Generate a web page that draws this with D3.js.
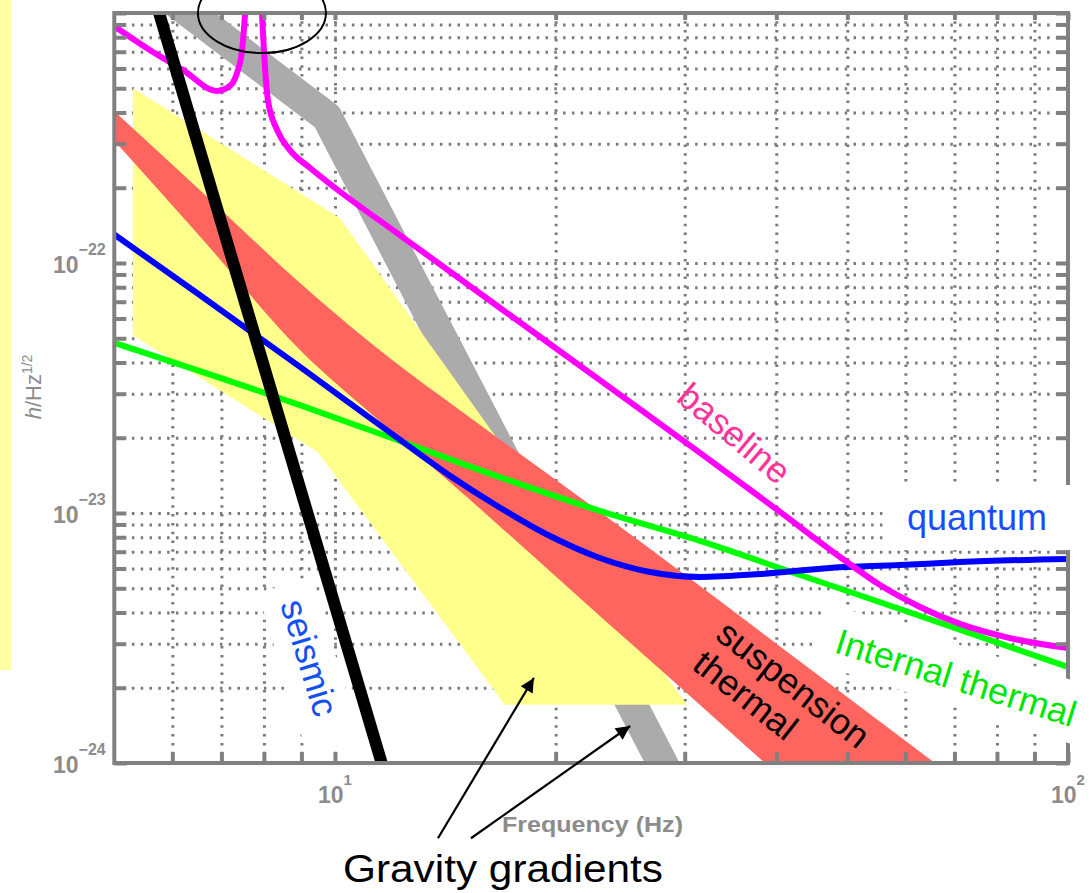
<!DOCTYPE html>
<html><head><meta charset="utf-8">
<script src="https://cdn.jsdelivr.net/npm/d3@7"></script>
<style>
html,body{margin:0;padding:0;background:#fff;}
svg{display:block;font-family:"Liberation Sans",Arial,Helvetica,sans-serif;}
</style></head><body>
<svg id="c" width="1092" height="893"></svg>
<script>
// ---------- data (frequency in Hz, strain h/Hz^1/2) ----------
const xTickValues = [6,7,8,9,10,20,30,40,50,60,70,80,90,100];
const xTickLabels = [[10,"1"],[100,"2"]];
const yTickDecades = [-24,-23,-22];
const seismic = [[5.65,1.2e-21],[11.8,8.3e-25]];
const gravityGradientMain = [[5.84,1.2e-21],[6.34,1.0e-21],[9.75,3.84e-22],[27.9,1.01e-24],[28.8,8.4e-25]];
const gravityGradientUpper = [[5.30,5.01e-22],[10.16,1.51e-22],[30.2,1.71e-24]];
const gravityGradientLower = [[5.30,5.15e-23],[9.48,1.75e-23],[17.06,1.71e-24]];
const suspensionUpper = [[5.0,4.05e-22],[6.54,1.96e-22],[8.96,8.32e-23],[11.06,4.92e-23],[16.12,2.15e-23],[20.73,1.26e-23],[30.69,5.40e-24],[43.37,2.51e-24],[65.84,1.0e-24]];
const suspensionLower = [[5.0,3.08e-22],[6.54,1.28e-22],[8.96,4.49e-23],[11.63,2.27e-23],[15.28,1.13e-23],[22.98,3.87e-24],[30.21,1.9e-24],[38.6,1.0e-24]];
const internalThermal = [[5.0,4.79e-23],[8.96,2.70e-23],[12.27,1.94e-23],[16.8,1.39e-23],[22.98,1.02e-23],[31.48,7.73e-24],[43.09,5.65e-24],[58.98,4.13e-24],[100,2.42e-24]];
const quantum = [[5.0,1.30e-22],[6.54,7.45e-23],[8.96,3.84e-23],[12.27,1.96e-23],[14.35,1.41e-23],[16.8,1.05e-23],[19.65,8.09e-24],[22.98,6.61e-24],[26.9,5.81e-24],[31.48,5.55e-24],[38.0,5.70e-24],[47.35,6.03e-24],[58.98,6.19e-24],[71.23,6.37e-24],[100,6.55e-24]];
const baseline = [[5.0,8.85e-22],[5.59,7.11e-22],[6.20,5.92e-22],[6.90,4.88e-22],[7.19,5.11e-22],[7.35,5.75e-22],[7.47,7.11e-22],[7.54,1.0e-21],[7.59,1.4e-21],[7.90,1.4e-21],[7.95,1.0e-21],[8.0,7.11e-22],[8.10,4.49e-22],[8.34,3.40e-22],[8.68,2.83e-22],[9.25,2.40e-22],[10.0,2.0e-22],[12.27,1.29e-22],[16.8,6.61e-23],[22.98,3.40e-23],[31.48,1.74e-23],[40.47,1.01e-23],[48.86,6.67e-24],[55.41,5.15e-24],[62.83,4.21e-24],[71.23,3.60e-24],[83.35,3.16e-24],[100,2.88e-24]];
const arrows = [[[13.82,5.0e-25],[18.68,2.19e-24]],[[15.33,5.0e-25],[25.27,1.406e-24]]];
const circled = [7.95,1e-21];

// ---------- layout ----------
const W=1092,H=893;
const m={l:114.3,r:1068,t:13,b:763};
const x=d3.scaleLog().domain([5,100]).range([m.l,m.r]);
const y=d3.scaleLog().domain([1e-24,1e-21]).range([m.b,m.t]);
const svg=d3.select("#c");
const GRAY="#808080";

svg.append("rect").attr("x",0).attr("y",0).attr("width",11).attr("height",670).attr("fill","#FFFFA6");

const defs=svg.append("defs");
defs.append("clipPath").attr("id","plot").append("rect")
  .attr("x",m.l).attr("y",m.t).attr("width",m.r-m.l).attr("height",m.b-m.t);
defs.append("marker").attr("id","ah").attr("viewBox","0 0 10 10").attr("refX",10).attr("refY",5)
  .attr("markerUnits","userSpaceOnUse").attr("markerWidth",18).attr("markerHeight",14).attr("orient","auto")
  .append("path").attr("d","M0,0L10,5L0,10z").attr("fill","#000");

// grid values
const yGrid=[];
yTickDecades.forEach(e=>{for(let k=1;k<=9;k++){const v=+(k+"e"+e); if(v>1e-24) yGrid.push(v);}});
const yTicksAll=[1e-24,...yGrid,1e-21];
const xGrid=xTickValues.filter(v=>v<100);

// grid
const gx=svg.append("g").attr("transform",`translate(0,${m.b})`)
  .call(d3.axisBottom(x).tickValues(xGrid).tickSize(-(m.b-m.t)).tickFormat(""));
const gy=svg.append("g").attr("transform",`translate(${m.l},0)`)
  .call(d3.axisLeft(y).tickValues(yGrid).tickSize(-(m.r-m.l)).tickFormat(""));
[gx,gy].forEach(g=>{g.select(".domain").remove();
  g.selectAll("line").attr("stroke","#7a7a7a").attr("stroke-width",3).attr("stroke-dasharray","2.5,6.3");});

// curves
const plot=svg.append("g").attr("clip-path","url(#plot)");
const line=d3.line().x(d=>x(d[0])).y(d=>y(d[1]));
const smooth=d3.line().x(d=>x(d[0])).y(d=>y(d[1])).curve(d3.curveMonotoneX);

plot.append("path").attr("d",line(gravityGradientMain)).attr("fill","none")
  .attr("stroke","#ABABAB").attr("stroke-width",31).attr("stroke-linejoin","round");
plot.append("path").attr("d",line(gravityGradientUpper.concat(gravityGradientLower.slice().reverse()))+"Z")
  .attr("fill","#FFFF8C");
plot.append("path").attr("d",smooth(suspensionUpper)+"L"+smooth(suspensionLower.slice().reverse()).slice(1)+"Z")
  .attr("fill","#FF655F");
plot.append("path").attr("d",smooth(internalThermal)).attr("fill","none").attr("stroke","#00FF00").attr("stroke-width",6);
plot.append("path").attr("d",smooth(quantum)).attr("fill","none").attr("stroke","#0000FF").attr("stroke-width",6);
plot.append("path").attr("d",smooth(baseline)).attr("fill","none").attr("stroke","#FF00FF").attr("stroke-width",6);
plot.append("path").attr("d",line(seismic)).attr("fill","none").attr("stroke","#000").attr("stroke-width",12);

// axes ticks (inward)
function styleAxis(g){g.select(".domain").remove();g.selectAll("line").attr("stroke",GRAY).attr("stroke-width",4);}
svg.append("g").attr("transform",`translate(0,${m.b})`).call(d3.axisBottom(x).tickValues(xTickValues).tickSize(-11).tickFormat("")).call(styleAxis);
svg.append("g").attr("transform",`translate(0,${m.t})`).call(d3.axisTop(x).tickValues(xTickValues).tickSize(-7).tickFormat("")).call(styleAxis);
svg.append("g").attr("transform",`translate(${m.l},0)`).call(d3.axisLeft(y).tickValues(yTicksAll).tickSize(-12).tickFormat("")).call(styleAxis);
svg.append("g").attr("transform",`translate(${m.r},0)`).call(d3.axisRight(y).tickValues(yTicksAll).tickSize(-12).tickFormat("")).call(styleAxis);
svg.append("rect").attr("x",m.l).attr("y",m.t).attr("width",m.r-m.l).attr("height",m.b-m.t)
  .attr("fill","none").attr("stroke",GRAY).attr("stroke-width",4);

// tick labels
const LBL="#8c8c8c";
yTickDecades.forEach(e=>{
  const t=svg.append("text").attr("x",53).attr("y",y(Math.pow(10,e))+10).attr("font-size",23).attr("font-weight","bold").attr("fill",LBL).text("10");
  t.append("tspan").attr("dy",-18).attr("font-size",16).text("\u2212"+(-e));
});
xTickLabels.forEach(([v,s])=>{
  const t=svg.append("text").attr("x",x(v)-17).attr("y",803).attr("font-size",23).attr("font-weight","bold").attr("fill",LBL).text("10");
  t.append("tspan").attr("dy",-18).attr("font-size",15).text(s);
});
svg.append("text").attr("x",502).attr("y",832).attr("font-size",22).attr("font-weight","bold").attr("fill",LBL)
  .attr("textLength",181).attr("lengthAdjust","spacingAndGlyphs").text("Frequency (Hz)");
const yl=svg.append("text").attr("transform","translate(41,387) rotate(-90)").attr("text-anchor","middle")
  .attr("font-size",22).attr("fill",LBL);
yl.append("tspan").attr("font-style","italic").text("h");
yl.append("tspan").text("/Hz");
yl.append("tspan").attr("dy",-9).attr("font-size",14).text("1/2");

// white label boxes
function rbox(px,py,ang,u0,u1,v0,v1){
  svg.append("rect").attr("transform",`translate(${px},${py}) rotate(${ang})`)
    .attr("x",u0).attr("y",v0).attr("width",u1-u0).attr("height",v1-v0).attr("fill","#fff");
}
svg.append("rect").attr("x",885).attr("y",485).attr("width",207).attr("height",65).attr("fill","#fff");
rbox(833,652,17.5,-22,280,-45,16);
rbox(280,604,73,-17,152,-38,18);

// annotation texts
function label(txt,px,py,ang,color,size,len){
  const t=svg.append("text").attr("transform",`translate(${px},${py}) rotate(${ang})`)
    .attr("font-size",size).attr("fill",color).text(txt);
  if(len) t.attr("textLength",len).attr("lengthAdjust","spacingAndGlyphs");
  return t;
}
label("quantum",907,530,0,"#1a4cff",36);
label("Internal thermal",833,652,17.5,"#00E600",36,250);
label("seismic",280,604,73,"#1450F0",36);
label("baseline",675,400,40,"#FF3399",36);
const st=svg.append("text").attr("transform","translate(714,638) rotate(38)").attr("font-size",36).attr("fill","#000");
st.append("tspan").attr("x",0).attr("y",0).text("suspension");
st.append("tspan").attr("x",0).attr("y",38).text("thermal");

svg.append("text").attr("x",343).attr("y",882).attr("font-size",38).attr("fill","#000")
  .attr("textLength",320).attr("lengthAdjust","spacingAndGlyphs").text("Gravity gradients");

arrows.forEach(a=>{
  svg.append("line").attr("x1",x(a[0][0])).attr("y1",y(a[0][1])).attr("x2",x(a[1][0])).attr("y2",y(a[1][1]))
    .attr("stroke","#000").attr("stroke-width",2.2).attr("marker-end","url(#ah)");
});
svg.append("ellipse").attr("cx",x(circled[0])).attr("cy",y(circled[1])).attr("rx",64).attr("ry",40)
  .attr("fill","none").attr("stroke","#000").attr("stroke-width",2);
</script>
</body></html>
